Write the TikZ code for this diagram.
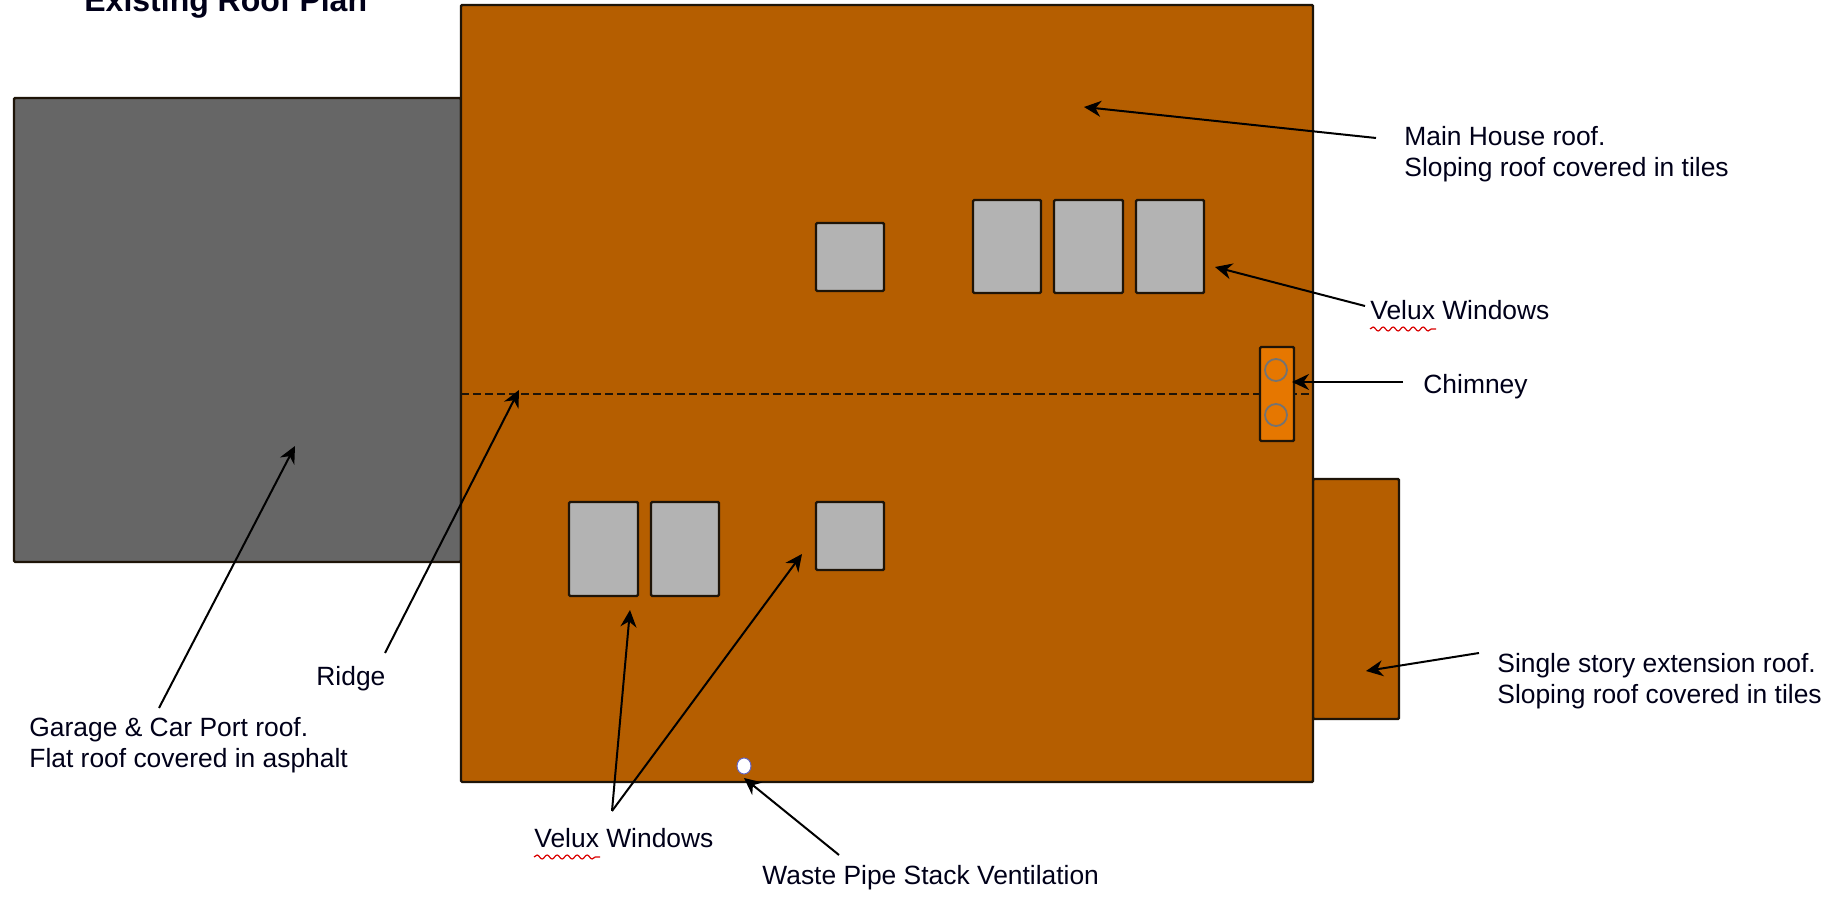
\documentclass[tikz,border=0pt]{standalone}
\usepackage{fontspec}
\setmainfont{Liberation Sans}
\usetikzlibrary{arrows.meta,decorations.pathmorphing,calc,shapes.geometric}
\definecolor{roofbrown}{HTML}{B55E00}
\definecolor{asphalt}{HTML}{666666}
\definecolor{velux}{HTML}{B3B3B3}
\definecolor{chim}{HTML}{E67700}
\definecolor{edge}{HTML}{1E1408}
\tikzset{
  x=0.5pt,y=-0.5pt,
  part/.style={draw=edge,line width=1.2pt,rounded corners=0.6pt},
  roof/.style={part,fill=roofbrown},
  win/.style={part,fill=velux},
  flue/.style={draw=black!55,line width=0.9pt,fill=chim},
  lead/.style={draw=black,line width=1pt,-{Stealth[length=8.5pt,width=8pt]}},
  label/.style={inner sep=0pt,align=left,font=\fontsize{13.2}{15.6}\selectfont,text=black!90!blue},
  oneline/.style={label,anchor=base west},
  twoline/.style={label,anchor=west},
  squiggle/.style={draw=red!85!black,line width=0.6pt,decorate,decoration={snake,amplitude=1pt,segment length=5pt}},
}
\begin{document}
\begin{tikzpicture}
\useasboundingbox (0,0) rectangle (1828,897);
\fill[white] (0,0) rectangle (1828,897);
% roofs
\draw[part,fill=asphalt] (14,98) rectangle (461,562);
\draw[roof] (1313,479) rectangle (1399,719);
\draw[roof] (461,5) rectangle (1313,782);
% ridge
\coordinate (ridgeL) at (461,394);
\coordinate (ridgeR) at (1313,394);
\draw[draw=edge,line width=0.8pt,dash pattern=on 4pt off 2pt] (ridgeL) -- (ridgeR);
% windows
\draw[win] (816,223) rectangle (884,291);
\draw[win] (973,200) rectangle (1041,293);
\draw[win] (1054,200) rectangle (1123,293);
\draw[win] (1136,200) rectangle (1204,293);
\draw[win] (569,502) rectangle (638,596);
\draw[win] (651,502) rectangle (719,596);
\draw[win] (816,502) rectangle (884,570);
% chimney
\draw[part,fill=chim] (1260,347) rectangle (1294,441);
\draw[flue] (1276,370) circle (11);
\draw[flue] (1276,415) circle (11);
% vent
\node[draw=black!40!blue!60,fill=white,line width=0.5pt,ellipse,inner sep=0pt,minimum width=7pt,minimum height=8pt] (vent) at (744,766) {};
% labels
\node[label,anchor=base west,font=\fontsize{16}{18}\selectfont\bfseries] (title) at (84,12) {Existing Roof Plan};
\node[twoline] (main) at (1404,154) {Main House roof.\\Sloping roof covered in tiles};
\node[oneline] (veluxA) at (1370,320) {Velux Windows};
\node[oneline] (chimney) at (1423,394) {Chimney};
\node[oneline] (ridge) at (316,686) {Ridge};
\node[twoline] (garage) at (29,745) {Garage \& Car Port roof.\\Flat roof covered in asphalt};
\node[twoline] (ext) at (1497,681) {Single story extension roof.\\Sloping roof covered in tiles};
\node[oneline] (veluxB) at (534,848) {Velux Windows};
\node[oneline] (waste) at (762,885) {Waste Pipe Stack Ventilation};
% squiggles
\draw[squiggle] ($(veluxA.base west)+(0,9)$) -- ++(66,0);
\draw[squiggle] ($(veluxB.base west)+(0,9)$) -- ++(66,0);
% leader ends
\coordinate (mainS) at (1376,138);
\coordinate (mainT) at (1084,107);
\coordinate (vaS) at (1365,306);
\coordinate (vaT) at (1215,267);
\coordinate (chS) at (1403,382);
\coordinate (chT) at (1292,382);
\coordinate (rS) at (385,653);
\coordinate (rT) at (519,390);
\coordinate (gS) at (159,708);
\coordinate (gT) at (295,446);
\coordinate (vbS) at (612,811);
\coordinate (vbT1) at (630,610);
\coordinate (vbT2) at (802,554);
\coordinate (eS) at (1479,653);
\coordinate (eT) at (1366,671);
\coordinate (wS) at (839,855);
\coordinate (wT) at (744,778);
\draw[lead] (mainS) -- (mainT);
\draw[lead] (vaS) -- (vaT);
\draw[lead] (chS) -- (chT);
\draw[lead] (rS) -- (rT);
\draw[lead] (gS) -- (gT);
\draw[lead] (vbS) -- (vbT1);
\draw[lead] (vbS) -- (vbT2);
\draw[lead] (eS) -- (eT);
\draw[lead] (wS) -- (wT);
\end{tikzpicture}
\end{document}
